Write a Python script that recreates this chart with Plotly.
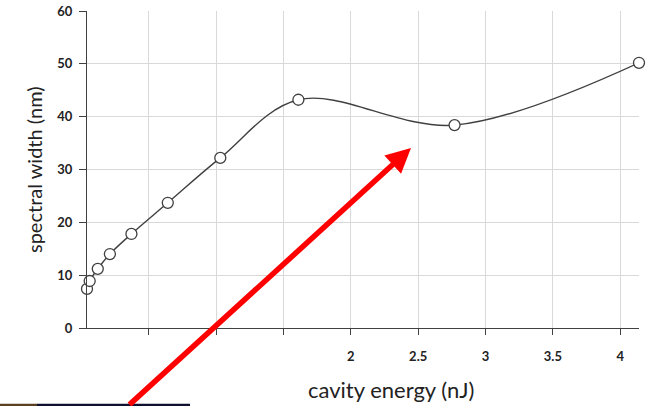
import plotly.graph_objects as go

# Measured spectral width versus intracavity pulse energy
cavity_energy_nj = [0.04, 0.06, 0.12, 0.21, 0.37, 0.64, 1.03, 1.61, 2.77, 4.14]
spectral_width_nm = [7.4, 8.9, 11.2, 14.0, 17.8, 23.7, 32.2, 43.2, 38.4, 50.2]

x_tick_vals = [0.5, 1.0, 1.5, 2.0, 2.5, 3.0, 3.5, 4.0]
x_tick_text = ["", "", "", "2", "2.5", "3", "3.5", "4"]
y_tick_vals = [0, 10, 20, 30, 40, 50, 60]

W, H = 657, 406
ML, MR, MT, MB = 87, 18, 11, 78
PW, PH = W - ML - MR, H - MT - MB


def px_to_paper(px, py):
    return (px - ML) / PW, (H - MB - py) / PH


fig = go.Figure()
fig.add_trace(go.Scatter(
    x=cavity_energy_nj,
    y=spectral_width_nm,
    mode="lines+markers",
    line=dict(color="#404040", width=1.4, shape="spline", smoothing=1.0),
    marker=dict(size=11, color="white", line=dict(color="#404040", width=1.3)),
    cliponaxis=False,
    showlegend=False,
))

tick_font = dict(family="Lato, Open Sans, sans-serif", size=13, color="#222222", weight="bold")

fig.update_xaxes(
    range=[0.04, 4.14],
    tickvals=x_tick_vals,
    ticktext=x_tick_text,
    ticks="outside", ticklen=6, tickcolor="#404040", tickwidth=1,
    ticklabelstandoff=10,
    showgrid=True, gridcolor="#d9d9d9", gridwidth=1,
    showline=True, linecolor="#404040", linewidth=1.2,
    zeroline=False, automargin=False,
    tickfont=tick_font,
)
fig.update_yaxes(
    range=[0, 60],
    tickvals=y_tick_vals,
    ticks="outside", ticklen=7, tickcolor="#404040", tickwidth=1,
    ticklabelstandoff=4,
    showgrid=True, gridcolor="#d9d9d9", gridwidth=1,
    showline=True, linecolor="#404040", linewidth=1.2,
    zeroline=False, automargin=False,
    tickfont=tick_font,
)

ax_x, ax_y = px_to_paper(391, 389)
fig.add_annotation(text="cavity energy (nJ)", x=ax_x, y=ax_y, xref="paper", yref="paper",
                   showarrow=False,
                   font=dict(family="Lato, Open Sans, sans-serif", size=22, color="#222222"),
                   xanchor="center", yanchor="middle")
ay_x, ay_y = px_to_paper(34, 170)
fig.add_annotation(text="spectral width (nm)", x=ay_x, y=ay_y, xref="paper", yref="paper",
                   showarrow=False,
                   font=dict(family="Lato, Open Sans, sans-serif", size=20, color="#222222"),
                   textangle=-90, xanchor="center", yanchor="middle")

# Red pointer arrow
tip_x, tip_y = px_to_paper(411, 148)
fig.add_annotation(x=tip_x, y=tip_y, xref="paper", yref="paper", text="",
                   showarrow=True, ax=-283, ay=266, arrowcolor="#ff0000",
                   arrowwidth=5.5, arrowhead=2, arrowsize=0.9, standoff=0)

# Underline strip at the bottom edge
x0, y0 = px_to_paper(0, 405)
x1, _ = px_to_paper(37, 405)
x2, _ = px_to_paper(190, 405)
fig.add_shape(type="line", xref="paper", yref="paper", x0=x0, x1=x1, y0=y0, y1=y0,
              line=dict(color="#5a4020", width=2.5))
fig.add_shape(type="line", xref="paper", yref="paper", x0=x1, x1=x2, y0=y0, y1=y0,
              line=dict(color="#101030", width=2.5))

fig.update_layout(
    width=W, height=H,
    margin=dict(l=ML, r=MR, t=MT, b=MB, pad=0, autoexpand=False),
    plot_bgcolor="white", paper_bgcolor="white",
)

fig.write_html("out.html")
